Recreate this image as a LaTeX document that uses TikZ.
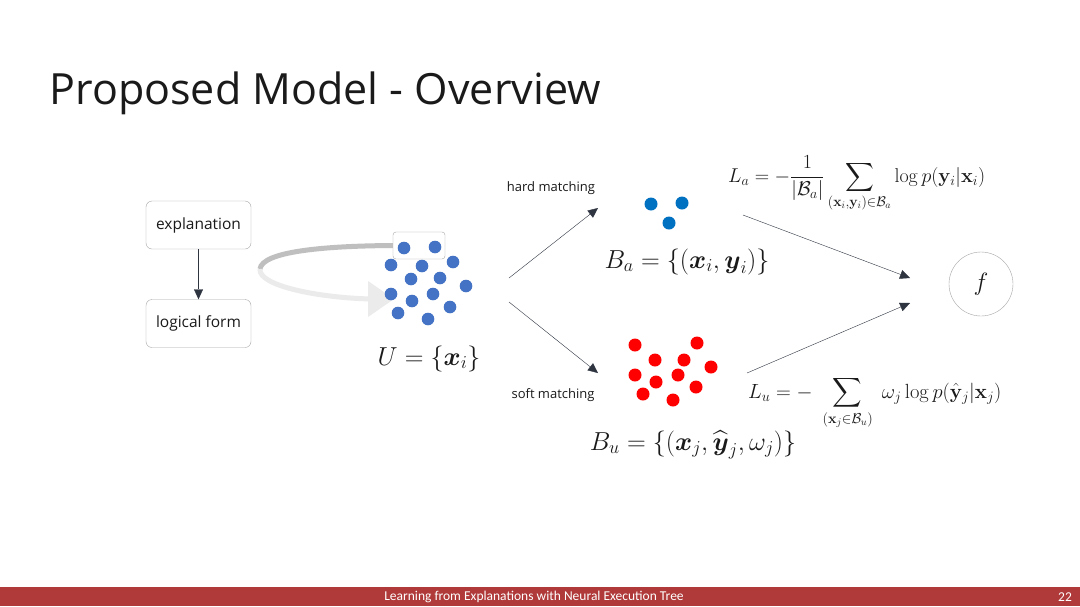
\RequirePackage{fix-cm}
\documentclass[tikz,border=0pt]{standalone}
\usepackage{amsmath,amssymb}
\usepackage[no-math]{fontspec}
\setmainfont{Open Sans}
\newfontfamily\footfont{Carlito}
\usetikzlibrary{arrows.meta}
\definecolor{titleblack}{HTML}{1A1A1A}
\definecolor{arrowgray}{HTML}{2E3440}
\definecolor{boxgray}{HTML}{A6A6A6}
\definecolor{arcdark}{HTML}{BFBFBF}
\definecolor{arclight}{HTML}{EBEBEB}
\definecolor{dotblue}{HTML}{4472C4}
\definecolor{setblue}{HTML}{0070C0}
\definecolor{setred}{HTML}{FF0000}
\definecolor{footred}{HTML}{B03A3A}

\begin{document}
\begin{tikzpicture}[x=1pt,y=-1pt,
	every node/.style={text=titleblack, font=\fontsize{13}{15}\selectfont},
	stepbox/.style={draw=boxgray, rounded corners=6pt, minimum width=105pt, minimum height=48pt, inner sep=0pt, font=\fontsize{15.5}{18}\selectfont},
	link/.style={arrowgray, -{Triangle[length=10pt,width=9pt]}},
	setlabel/.style={anchor=base, inner sep=0pt, font=\fontsize{26}{30}\selectfont},
	losslabel/.style={anchor=base west, inner sep=0pt, font=\fontsize{20}{24}\selectfont}]
	\fill[white] (0,0) rectangle (1080,606);
	\useasboundingbox (0,0) rectangle (1080,606);
	\node[anchor=base west, font=\fontsize{43}{50}\selectfont] (title) at (46,104) {Proposed Model - Overview};
	% explanation -> logical form
	\node[stepbox] (expl) at (198.5,225) {explanation};
	\node[stepbox] (logic) at (198.5,323.5) {logical form};
	\draw[link] (expl) -- (logic);
	% unlabeled pool
	\node[draw=boxgray, rounded corners=3pt, minimum width=52pt, minimum height=27pt, inner sep=0pt] (pick) at (419,245.5) {};
	\coordinate (arcleft) at (260,269);
	\coordinate (arctip) at (372,299);
	\draw[line width=5pt, arcdark] (pick.west) .. controls (320,246) and (262,252) .. (arcleft);
	\draw[line width=5pt, arclight] (arcleft) .. controls (258,286) and (320,298) .. (arctip);
	\fill[arclight] (368,281) -- (394,299) -- (368,317) -- cycle;
	\foreach \p in {(404,248),(435,247),(391,265),(422,266),(453,262),(411,279),(440,278),(466,286),(391,294),(412,301),(433,294),(450,307),(398,313),(428,319)}
		\fill[dotblue] \p circle[radius=6.3pt];
	\node[setlabel] (uset) at (429,365) {$U=\{\boldsymbol{x}_i\}$};
	% matching
	\coordinate (hardstart) at (509,278);
	\coordinate (hardend) at (598,208);
	\coordinate (softstart) at (509,302);
	\coordinate (softend) at (598,373);
	\draw[link] (hardstart) -- (hardend);
	\draw[link] (softstart) -- (softend);
	\node (hard) at (551,188) {hard matching};
	\node (soft) at (553,395) {soft matching};
	\foreach \p in {(651,204),(682,203),(669,223)}
		\fill[setblue] \p circle[radius=6.5pt];
	\node[setlabel] (bseta) at (687,268) {$B_a=\{(\boldsymbol{x}_i,\boldsymbol{y}_i)\}$};
	\foreach \p in {(635,345),(697,343),(655,360),(684,360),(711,367),(635,375),(656,382),(678,375),(696,387),(643,394),(673,400)}
		\fill[setred] \p circle[radius=6.5pt];
	\node[setlabel] (bsetu) at (693,450) {$B_u=\{(\boldsymbol{x}_j,\widehat{\boldsymbol{y}}_j,\omega_j)\}$};
	% losses
	\node[circle, draw=boxgray, minimum size=64pt, inner sep=0pt, font=\fontsize{25}{28}\selectfont] (f) at (981,284) {$f$};
	\coordinate (lossa) at (743,215);
	\coordinate (lossu) at (747,373);
	\coordinate (fa) at (910,278);
	\coordinate (fu) at (910,303);
	\draw[link] (lossa) -- (fa);
	\draw[link] (lossu) -- (fu);
	\node[losslabel] (la) at (728,182) {$\displaystyle L_a=-\frac{1}{|\mathcal{B}_a|}\sum_{(\mathbf{x}_i,\mathbf{y}_i)\in\mathcal{B}_a}\log p(\mathbf{y}_i|\mathbf{x}_i)$};
	\node[losslabel, font=\fontsize{20.5}{24}\selectfont] (lu) at (748,398) {$\displaystyle L_u=-\,\,\sum_{(\mathbf{x}_j\in\mathcal{B}_u)}\;\omega_j\log p(\hat{\mathbf{y}}_j|\mathbf{x}_j)$};
	% footer
	\fill[footred] (0,587) rectangle (1080,606);
	\node[text=white, font=\footfont\fontsize{13.5}{15}\selectfont] (foot) at (534,597) {Learning from Explanations with Neural Execution Tree};
	\node[text=white, font=\footfont\fontsize{13.5}{15}\selectfont] (page) at (1065,597) {22};
\end{tikzpicture}
\end{document}
